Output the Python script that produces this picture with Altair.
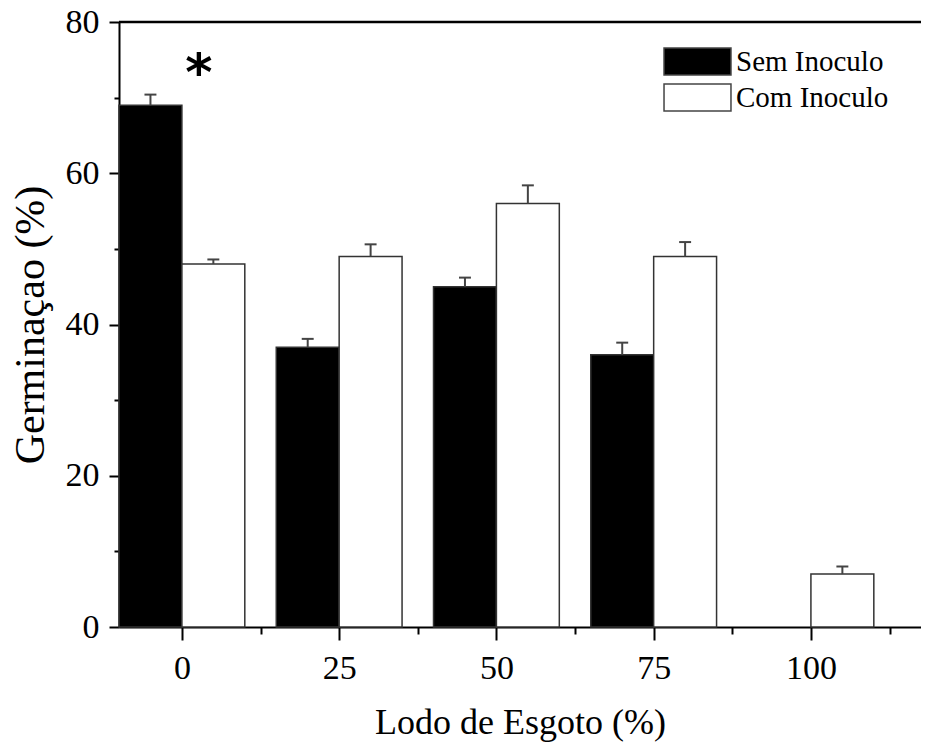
import altair as alt
import pandas as pd

doses = [0, 25, 50, 75, 100]
series_names = ["Sem Inoculo", "Com Inoculo"]
sem_values = [69, 37, 45, 36, 0]
sem_errors = [1.4, 1.1, 1.2, 1.6, 0]
com_values = [48, 49, 56, 49, 7]
com_errors = [0.6, 1.6, 2.4, 1.9, 1.0]

x_ticks = [0, 12.5, 25, 37.5, 50, 62.5, 75, 87.5, 100, 112.5]
y_ticks = [0, 10, 20, 30, 40, 50, 60, 70, 80]

rows = []
for d, v, e in zip(doses, sem_values, sem_errors):
    rows.append({"dose": d, "series": series_names[0], "value": v, "err": e, "side": -1})
for d, v, e in zip(doses, com_values, com_errors):
    rows.append({"dose": d, "series": series_names[1], "value": v, "err": e, "side": 0})
df = pd.DataFrame(rows)

FONT = "Liberation Serif"
xscale = alt.Scale(domain=[-10, 117.5], nice=False, zero=False)
yscale = alt.Scale(domain=[0, 80], nice=False)

base = alt.Chart(df).transform_calculate(
    x0="datum.dose + datum.side * 10",
    x1="datum.dose + datum.side * 10 + 10",
    xc="datum.dose + datum.side * 10 + 5",
    top="datum.value + datum.err",
    cl="datum.dose + datum.side * 10 + 5 - 0.95",
    cr="datum.dose + datum.side * 10 + 5 + 0.95",
)

bars = base.transform_filter("datum.value > 0").mark_rect(stroke="#333333", strokeWidth=1.5).encode(
    x=alt.X("x0:Q", scale=xscale, axis=alt.Axis(
        values=x_ticks,
        title="Lodo de Esgoto (%)",
        labelExpr="datum.value % 25 === 0 ? datum.label : ''",
        tickSize={"condition": {"test": "datum.value % 25 === 0", "value": 13}, "value": 7},
        grid=False,
    )),
    x2="x1:Q",
    y=alt.Y("value:Q", scale=yscale, axis=alt.Axis(
        values=y_ticks,
        title="Germinaçao (%)",
        labelExpr="datum.value % 20 === 0 ? datum.label : ''",
        tickSize={"condition": {"test": "datum.value % 20 === 0", "value": 10}, "value": 5},
        grid=False,
    )),
    y2=alt.datum(0),
    fill=alt.Fill("series:N", scale=alt.Scale(domain=series_names, range=["#000000", "#ffffff"]),
                  legend=alt.Legend(title=None, orient="none", legendX=564, legendY=25,
                                    symbolType="M-2.48,-1H2.48V1H-2.48Z", symbolSize=729,
                                    symbolStrokeColor="#444444", symbolStrokeWidth=1.5,
                                    labelFont=FONT, labelFontSize=29, labelColor="#000000",
                                    labelOffset=24, rowPadding=3, padding=0)),
)

err_line = base.transform_filter("datum.err > 0").mark_rule(color="#444444", strokeWidth=2).encode(
    x="xc:Q", y="value:Q", y2="top:Q"
)
err_cap = base.transform_filter("datum.err > 0").mark_rule(color="#444444", strokeWidth=2).encode(
    x="cl:Q", x2="cr:Q", y="top:Q"
)

top_line = alt.Chart(pd.DataFrame({"v": [80]})).mark_rule(color="#000000", strokeWidth=2.5).encode(
    y=alt.Y("v:Q", scale=yscale)
)

star = alt.Chart(pd.DataFrame({"x": [2.7], "y": [71.0], "t": ["*"]})).mark_text(
    font="DejaVu Sans", fontWeight="bold", fontSize=52, align="center", baseline="alphabetic", color="#000000"
).encode(x=alt.X("x:Q", scale=xscale), y=alt.Y("y:Q", scale=yscale), text="t:N")

chart = alt.layer(bars, err_line, err_cap, top_line, star).properties(
    width=802, height=605,
    autosize=alt.AutoSizeParams(type="none"),
    padding={"left": 111, "top": 14, "right": 0, "bottom": 118},
).configure_view(stroke=None).configure_axis(
    labelFont=FONT, labelFontSize=34, labelColor="#000000",
    titleFont=FONT, titleFontSize=36, titleFontWeight="normal", titleColor="#000000",
    domainColor="#000000", domainWidth=2, tickColor="#000000", tickWidth=2,
).configure_axisX(labelPadding=11, titlePadding=20, labelAngle=0).configure_axisY(
    labelPadding=10, titlePadding=13, titleFontSize=42
)

chart.save("out.html", embed_options={"renderer": "svg", "actions": False})
